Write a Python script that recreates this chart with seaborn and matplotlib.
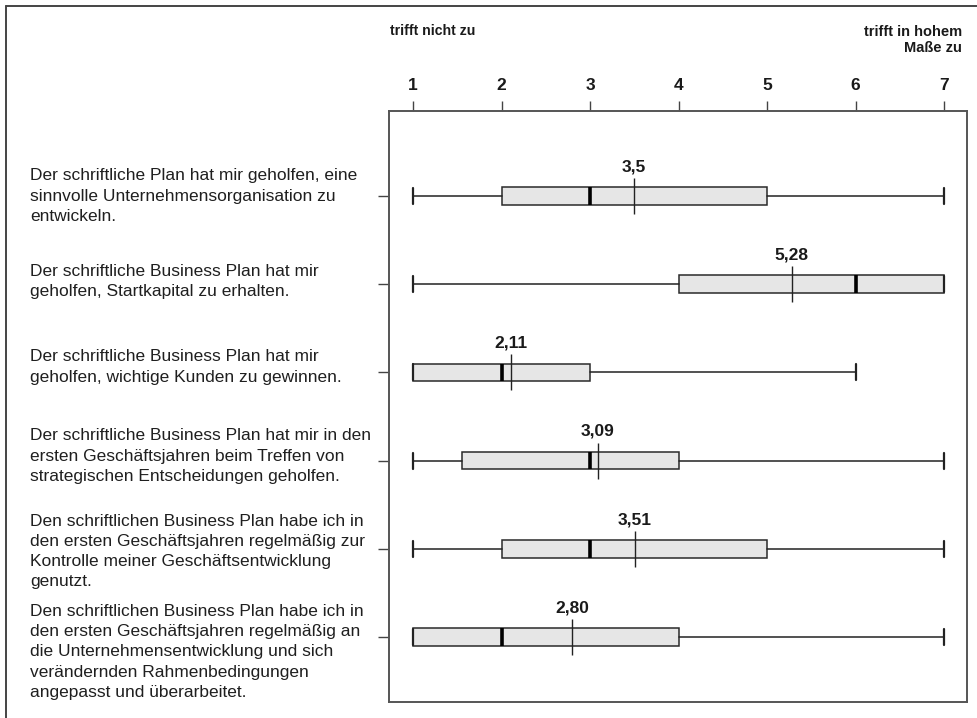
import matplotlib
matplotlib.use("Agg")
import matplotlib.pyplot as plt
import matplotlib.transforms as mtransforms
from matplotlib.lines import Line2D
import seaborn as sns
import pandas as pd

# Statements (rows, top to bottom)
statements = [
    "Der schriftliche Plan hat mir geholfen, eine\nsinnvolle Unternehmensorganisation zu\nentwickeln.",
    "Der schriftliche Business Plan hat mir\ngeholfen, Startkapital zu erhalten.",
    "Der schriftliche Business Plan hat mir\ngeholfen, wichtige Kunden zu gewinnen.",
    "Der schriftliche Business Plan hat mir in den\nersten Geschäftsjahren beim Treffen von\nstrategischen Entscheidungen geholfen.",
    "Den schriftlichen Business Plan habe ich in\nden ersten Geschäftsjahren regelmäßig zur\nKontrolle meiner Geschäftsentwicklung\ngenutzt.",
    "Den schriftlichen Business Plan habe ich in\nden ersten Geschäftsjahren regelmäßig an\ndie Unternehmensentwicklung und sich\nverändernden Rahmenbedingungen\nangepasst und überarbeitet.",
]

# Five-number summaries and means per statement
minimum = [1, 1, 1, 1, 1, 1]
quartile1 = [2, 4, 1, 1.55, 2, 1]
median = [3, 6, 2, 3, 3, 2]
quartile3 = [5, 7, 3, 4, 5, 4]
maximum = [7, 7, 6, 7, 7, 7]
mean = [3.5, 5.28, 2.11, 3.09, 3.51, 2.80]
mean_labels = ["3,5", "5,28", "2,11", "3,09", "3,51", "2,80"]

scale_ticks = [1, 2, 3, 4, 5, 6, 7]
scale_low = "trifft nicht zu"
scale_high = "trifft in hohem\nMaße zu"

sns.set_theme(style="white")
plt.rcParams["font.family"] = ["Liberation Sans", "DejaVu Sans"]

W, H = 977, 718
fig = plt.figure(figsize=(W / 100, H / 100), dpi=100)
ax = fig.add_axes([389 / W, 1 - 702 / H, (967 - 389) / W, (702 - 111) / H])

rows = list(range(len(statements)))
stats = [
    dict(whislo=lo, q1=a, med=m, q3=b, whishi=hi, label="")
    for lo, a, m, b, hi in zip(minimum, quartile1, median, quartile3, maximum)
]

ax.bxp(
    stats,
    positions=rows,
    orientation="horizontal",
    widths=0.2,
    capwidths=0.18,
    showfliers=False,
    patch_artist=True,
    boxprops=dict(facecolor="#e6e6e6", edgecolor="#2a2a2a", linewidth=1.1),
    medianprops=dict(color="black", linewidth=2.6, solid_capstyle="butt"),
    whiskerprops=dict(color="#222222", linewidth=1.1),
    capprops=dict(color="#222222", linewidth=1.6),
)

# Means as thin vertical strokes
means_df = pd.DataFrame({"mean": mean, "row": rows})
sns.scatterplot(
    data=means_df, x="mean", y="row", marker="|", s=26 ** 2,
    color="#222222", linewidth=1.0, ax=ax, zorder=5, legend=False,
)

for r, m, lab in zip(rows, mean, mean_labels):
    ax.text(m, r - 0.33, lab, ha="center", va="center",
            fontsize=12.5, fontweight="bold", color="#1a1a1a")

ax.set_xlim(1 - 24 / 88.5, 7 + 23 / 88.5)
ax.set_ylim(5 + 65 / 88.2, -85 / 88.2)
ax.set_xlabel("")
ax.set_ylabel("")

ax.xaxis.tick_top()
ax.set_xticks(scale_ticks)
ax.set_xticklabels([str(t) for t in scale_ticks], fontsize=12.5,
                   fontweight="bold", color="#1a1a1a")
ax.tick_params(axis="x", which="major", direction="out", length=7,
               width=1.0, color="#444444", pad=6, top=True, bottom=False)
ax.set_yticks(rows)
ax.set_yticklabels([""] * len(rows))
ax.tick_params(axis="y", which="major", direction="out", length=8,
               width=1.0, color="#444444", left=True)

for sp in ax.spines.values():
    sp.set_color("#555555")
    sp.set_linewidth(1.4)

# Statement texts on the left
label_nudge = [0.0, -0.03, -0.06, -0.05, 0.03, 0.17]
trans = mtransforms.blended_transform_factory(fig.transFigure, ax.transData)
for r, txt, dy in zip(rows, statements, label_nudge):
    ax.text(30 / W, r + dy, txt, transform=trans, ha="left", va="center",
            fontsize=12.5, color="#1f1f1f", linespacing=1.44, clip_on=False)

# Scale anchors
fig.text(390 / W, 1 - 31 / H, scale_low, ha="left", va="center",
         fontsize=10.2, fontweight="bold", color="#1a1a1a")
fig.text(962 / W, 1 - 40 / H, scale_high, ha="right", va="center",
         fontsize=10.5, fontweight="bold", color="#1a1a1a", linespacing=1.2,
         multialignment="right")

# Outer frame (top and left edges)
fig.add_artist(Line2D([6 / W, 1], [1 - 6 / H, 1 - 6 / H],
                      transform=fig.transFigure, color="#444444", lw=1.4))
fig.add_artist(Line2D([6 / W, 6 / W], [0, 1 - 6 / H],
                      transform=fig.transFigure, color="#444444", lw=1.4))

fig.savefig("out.png", dpi=100, facecolor="white")
